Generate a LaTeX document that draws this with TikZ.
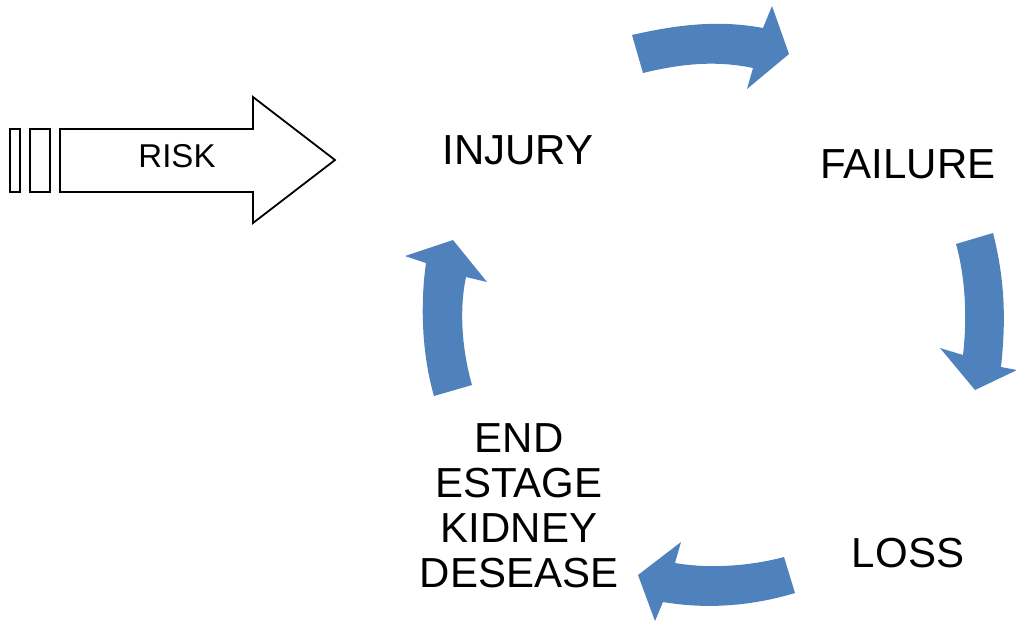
\documentclass[tikz,border=0pt]{standalone}
\usepackage{fontspec}
\setmainfont{Liberation Sans}
\definecolor{cycleblue}{HTML}{4F81BD}
\begin{document}
\begin{tikzpicture}[x=1pt,y=-1pt,
  lbl/.style={font=\fontsize{42}{45}\selectfont, align=center, inner sep=0pt},
  blue arrow/.style={fill=cycleblue, draw=none},
  outline/.style={draw=black, line width=1.8pt, fill=white, line join=miter}]
\useasboundingbox (0,0) rectangle (1016,622);
% RISK arrow
\draw[outline] (10,129) rectangle (20,192);
\draw[outline] (30,129) rectangle (50,192);
\draw[outline] (60,129) -- (253,129) -- (253,97) -- (335,160) -- (253,223) -- (253,192) -- (60,192) -- cycle;
\node[lbl, font=\fontsize{33}{36}\selectfont] (risk) at (177,156) {RISK};
% labels
\node[lbl] (injury) at (518,150) {INJURY};
\node[lbl] (failure) at (908,164) {FAILURE};
\node[lbl] (loss) at (908,553) {LOSS};
\node[lbl] (eskd) at (519,506) {END\\ESTAGE\\KIDNEY\\DESEASE};
% top arrow
\fill[blue arrow] (632,35) .. controls (680,24) and (720,20) .. (763,28)
  -- (772,6) -- (789,54) -- (747,89) -- (753,68)
  .. controls (715,60) and (680,64) .. (643,73) -- cycle;
% right arrow
\fill[blue arrow] (956,244) -- (993,233) .. controls (1005,280) and (1006,320) .. (1001,367)
  -- (1017,370) -- (975,390) -- (940,348) -- (963,355)
  .. controls (967,320) and (966,280) .. (956,244) -- cycle;
% bottom arrow
\fill[blue arrow] (784,557) .. controls (750,566) and (710,569) .. (675,563)
  -- (681,542) -- (638,575) -- (655,621) -- (663,602)
  .. controls (710,610) and (755,605) .. (795,593) -- cycle;
% left arrow
\fill[blue arrow] (434,396) .. controls (422,355) and (420,305) .. (426,263)
  -- (405,256) -- (453,240) -- (487,282) -- (466,277)
  .. controls (459,310) and (462,350) .. (472,385) -- cycle;
\end{tikzpicture}
\end{document}
